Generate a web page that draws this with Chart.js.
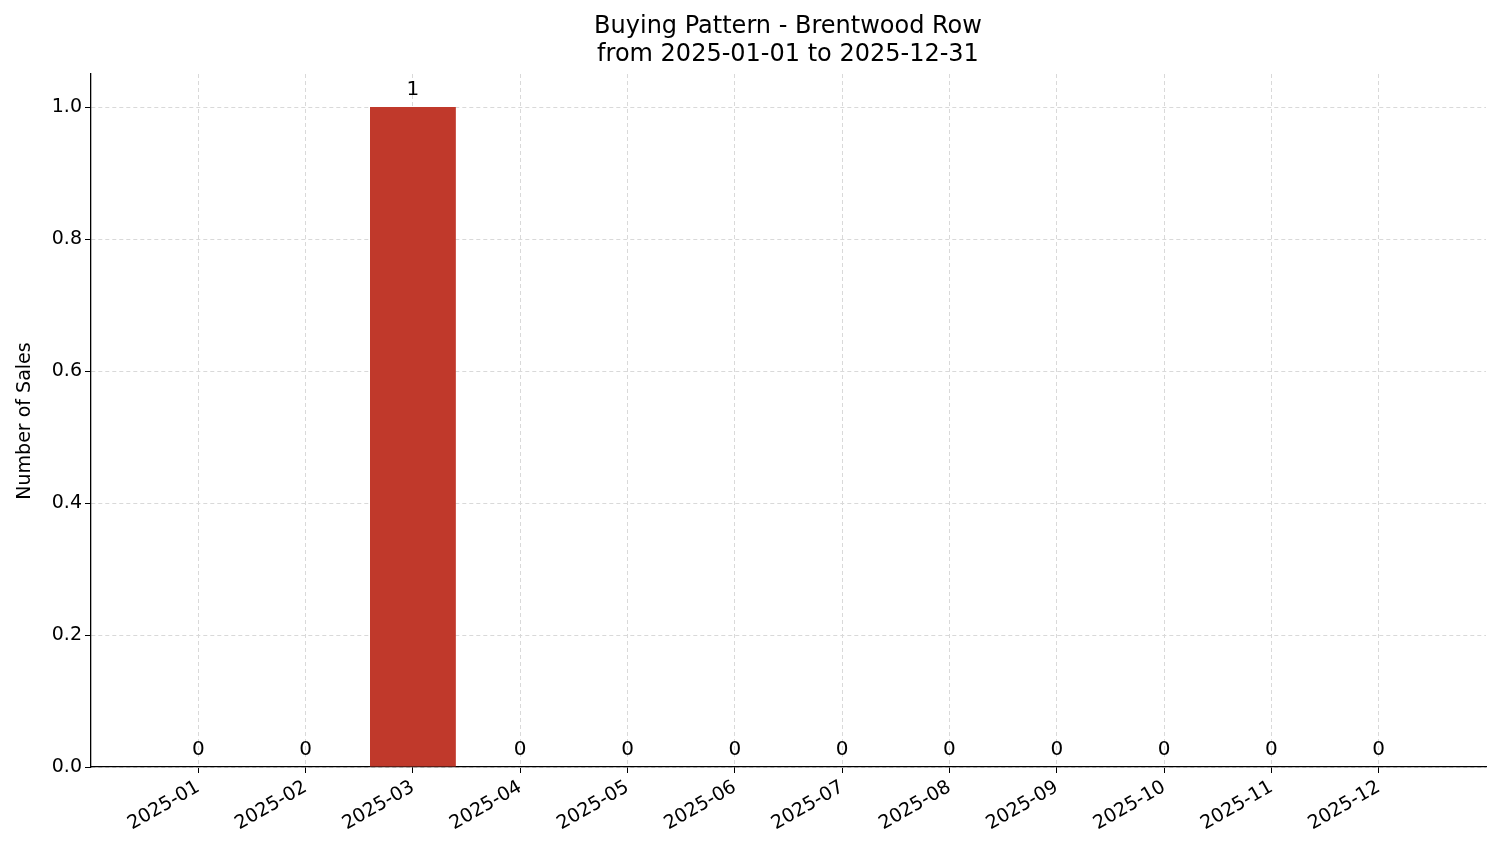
<!DOCTYPE html>
<html><head><meta charset="utf-8">
<script src="https://cdn.jsdelivr.net/npm/chart.js@4/dist/chart.umd.min.js"></script>
<style>html,body{margin:0;padding:0;background:#fff}#w{width:1501px;height:863px}</style>
</head><body><div id="w"><canvas id="c"></canvas></div>
<script>
const months = ['2025-01','2025-02','2025-03','2025-04','2025-05','2025-06','2025-07','2025-08','2025-09','2025-10','2025-11','2025-12'];
const sales = [0,0,1,0,0,0,0,0,0,0,0,0];
const yTicks = [0,0.2,0.4,0.6,0.8,1.0];
const titleLines = ['Buying Pattern - Brentwood Row','from 2025-01-01 to 2025-12-31'];
const labels = [''].concat(months, ['']);
const data = [null].concat(sales, [null]);
const F = 'DejaVu Sans';
const extra = {
  id:'extra',
  afterDraw(ch){
    const c=ch.ctx, m=ch.getDatasetMeta(0);
    c.save(); c.fillStyle='#000'; c.font='20px '+F; c.textAlign='center'; c.textBaseline='alphabetic';
    m.data.forEach((b,i)=>{ if(data[i]==null) return; c.fillText(String(data[i]), b.x, b.y-12); });
    c.font='24px '+F;
    c.fillText(titleLines[0], 788, 33); c.fillText(titleLines[1], 788, 61);
    c.font='19px '+F; c.translate(30, 421); c.rotate(-Math.PI/2); c.fillText('Number of Sales',0,0);
    c.restore();
  }
};
new Chart(document.getElementById('c'),{
  type:'bar',
  data:{labels, datasets:[{data, backgroundColor:'#c0392b', barPercentage:0.8, categoryPercentage:1}]},
  options:{
    responsive:true, maintainAspectRatio:false, animation:false,
    layout:{padding:{top:74,right:15,left:0,bottom:0}},
    plugins:{legend:{display:false},tooltip:{enabled:false}},
    scales:{
      x:{offset:false,
        afterFit(s){s.height=96;},
        grid:{offset:false,color:(ctx)=>(ctx.index===0||ctx.index===13)?'rgba(0,0,0,0)':'#d9d9d9', tickColor:(ctx)=>(ctx.index===0||ctx.index===13)?'rgba(0,0,0,0)':'#000', tickLength:6},
        border:{color:'#000',width:1.3, dash:[4,3]},
        ticks:{color:'#000',font:{family:F,size:19},maxRotation:30,minRotation:30,autoSkip:false,
          callback:(v,i)=>labels[i]}
      },
      y:{min:0,max:1.05,
        afterFit(s){s.width=91;},
        afterBuildTicks(s){s.ticks=yTicks.map(v=>({value:v}));},
        grid:{color:'#d9d9d9',tickColor:'#000',tickLength:6},
        border:{color:'#000',width:1.3,dash:[4,3]},
        ticks:{color:'#000',font:{family:F,size:19},callback:v=>v.toFixed(1)}
      }
    }
  },
  plugins:[extra]
});
</script></body></html>
